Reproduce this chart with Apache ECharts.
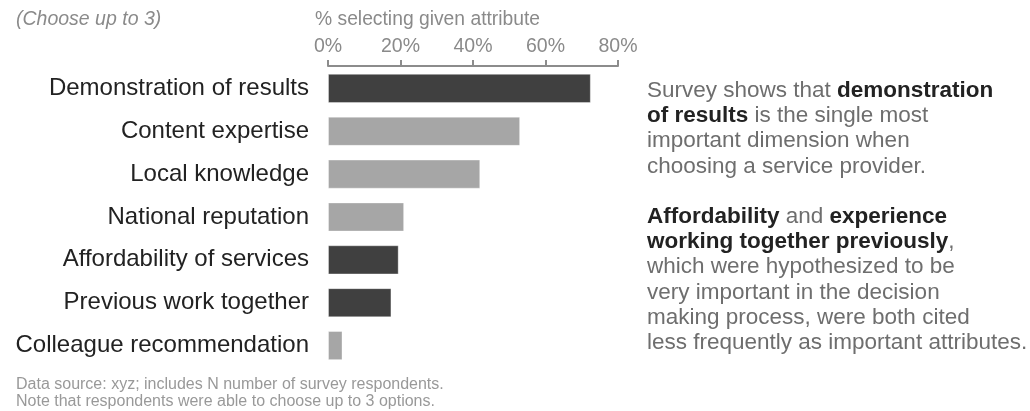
<!DOCTYPE html>
<html>
<head>
<meta charset="utf-8">
<script src="https://cdn.jsdelivr.net/npm/echarts@6/dist/echarts.min.js"></script>
<style>
  html, body { margin: 0; padding: 0; background: #fff; }
  #chart { width: 1030px; height: 411px; }
</style>
</head>
<body>
<div id="chart"></div>
<script>
// Attributes, top to bottom
const categories = [
  'Demonstration of results',
  'Content expertise',
  'Local knowledge',
  'National reputation',
  'Affordability of services',
  'Previous work together',
  'Colleague recommendation'
];
// % of respondents selecting each attribute
const values = [72.5, 53, 42, 21, 19.5, 17.5, 4];
// Highlighted attributes (drawn dark)
const highlighted = [true, false, false, false, true, true, false];
const tickValues = [0, 20, 40, 60, 80];

const DARK = '#404040';
const LIGHT = '#a6a6a6';
const FONT = '"Liberation Sans", Arial, Helvetica, sans-serif';

const chart = echarts.init(document.getElementById('chart'), null, { renderer: 'canvas' });

const barData = values.map((v, i) => ({
  value: v,
  itemStyle: { color: highlighted[i] ? DARK : LIGHT }
}));

chart.setOption({
  animation: false,
  textStyle: { fontFamily: FONT },
  grid: { left: 328, right: 412, top: 67, height: 300, containLabel: false },
  xAxis: {
    type: 'value',
    position: 'top',
    min: tickValues[0],
    max: tickValues[tickValues.length - 1],
    interval: 20,
    offset: 1,
    axisLine: { show: true, lineStyle: { color: '#8c8c8c', width: 2 } },
    axisTick: { show: true, length: 6, lineStyle: { color: '#8c8c8c', width: 2 } },
    axisLabel: { formatter: '{value}%', color: '#8a8a8a', fontSize: 19.5, margin: 9, fontFamily: FONT },
    splitLine: { show: false }
  },
  yAxis: {
    type: 'category',
    inverse: true,
    data: categories,
    axisLine: { show: false },
    axisTick: { show: false },
    axisLabel: { color: '#222', fontSize: 24, margin: 19, fontFamily: FONT }
  },
  series: [{
    type: 'bar',
    data: barData,
    barCategoryGap: '32%',
    itemStyle: { borderColor: 'rgba(255,255,255,0.35)', borderWidth: 1 }
  }],
  graphic: [
    {
      type: 'text', left: 16, top: 10,
      style: { text: '(Choose up to 3)', font: 'italic 19.5px ' + FONT, fill: '#8a8a8a' }
    },
    {
      type: 'text', left: 315, top: 10,
      style: { text: '% selecting given attribute', font: '19.3px ' + FONT, fill: '#8a8a8a' }
    },
    {
      type: 'text', left: 647, top: 79,
      style: {
        text: '{n|Survey shows that }{b|demonstration}\n{b|of results}{n| is the single most}\n{n|important dimension when}\n{n|choosing a service provider.}',
        rich: {
          n: { font: '22.5px ' + FONT, fill: '#6e6e6e', lineHeight: 25.3 },
          b: { font: 'bold 22.5px ' + FONT, fill: '#222', lineHeight: 25.3 }
        }
      }
    },
    {
      type: 'text', left: 647, top: 205,
      style: {
        text: '{b|Affordability}{n| and }{b|experience}\n{b|working together previously}{n|,}\n{n|which were hypothesized to be}\n{n|very important in the decision}\n{n|making process, were both cited}\n{n|less frequently as important attributes.}',
        rich: {
          n: { font: '22.5px ' + FONT, fill: '#6e6e6e', lineHeight: 25.3 },
          b: { font: 'bold 22.5px ' + FONT, fill: '#222', lineHeight: 25.3 }
        }
      }
    },
    {
      type: 'text', left: 16, top: 376,
      style: {
        text: 'Data source: xyz; includes N number of survey respondents.\nNote that respondents were able to choose up to 3 options.',
        font: '16px ' + FONT, fill: '#999', lineHeight: 17
      }
    }
  ]
});
</script>
</body>
</html>
